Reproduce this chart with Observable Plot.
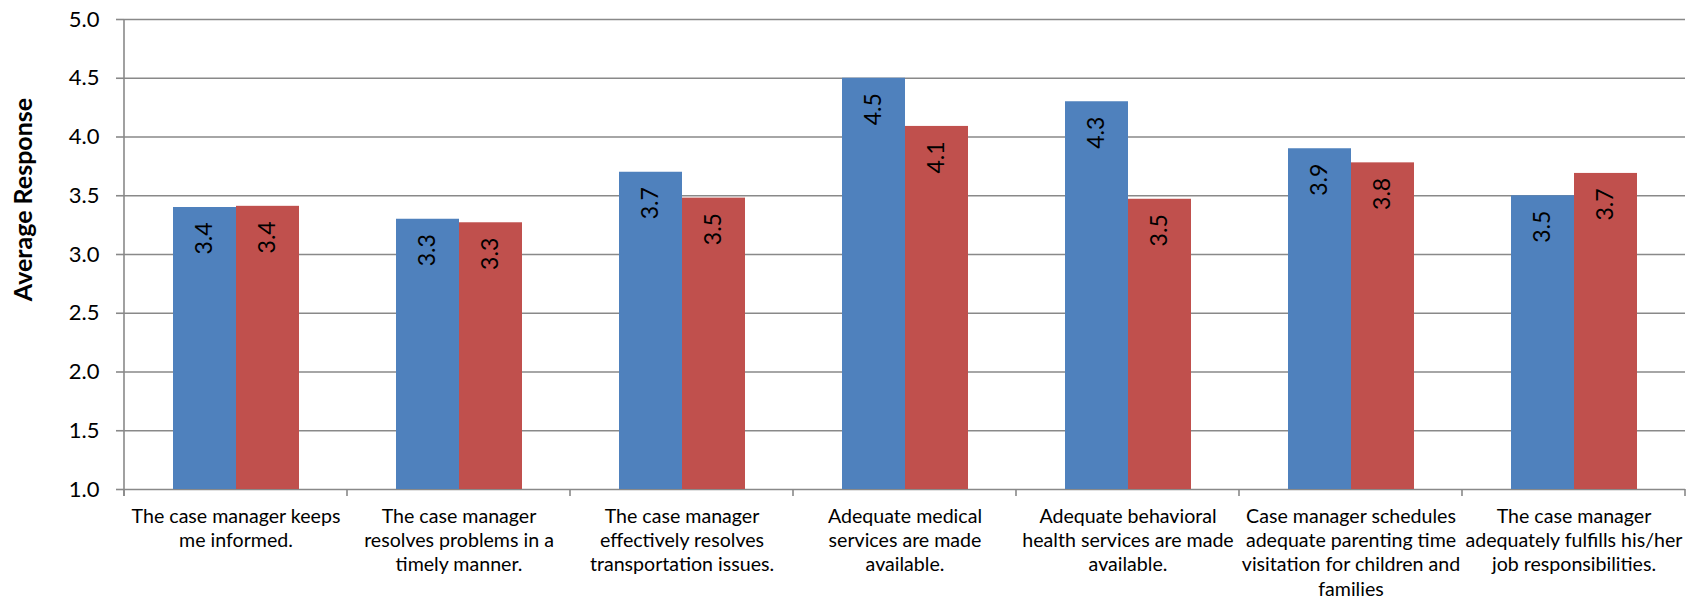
<!DOCTYPE html>
<html><head><meta charset="utf-8">
<script src="https://cdn.jsdelivr.net/npm/d3@7"></script>
<script src="https://cdn.jsdelivr.net/npm/@observablehq/plot@0.6"></script>
<style>html,body{margin:0;padding:0;background:#fff;} svg{display:block}</style>
</head><body><div id="chart"></div>
<script>
const categories = [
  "The case manager keeps me informed.",
  "The case manager resolves problems in a timely manner.",
  "The case manager effectively resolves transportation issues.",
  "Adequate medical services are made available.",
  "Adequate behavioral health services are made available.",
  "Case manager schedules adequate parenting time visitation for children and families",
  "The case manager adequately fulfills his/her job responsibilities."
];
const tickLabels = [
  "The case manager keeps\nme informed.",
  "The case manager\nresolves problems in a\ntimely manner.",
  "The case manager\neffectively resolves\ntransportation issues.",
  "Adequate medical\nservices are made\navailable.",
  "Adequate behavioral\nhealth services are made\navailable.",
  "Case manager schedules\nadequate parenting time\nvisitation for children and\nfamilies",
  "The case manager\nadequately fulfills his/her\njob responsibilities."
];
const seriesNames = ["Series 1", "Series 2"];
const blueValues = [3.40, 3.30, 3.70, 4.50, 4.30, 3.90, 3.50];
const redValues  = [3.41, 3.27, 3.48, 4.09, 3.47, 3.78, 3.69];
const yTicks = [1.0, 1.5, 2.0, 2.5, 3.0, 3.5, 4.0, 4.5, 5.0];
const seriesColors = ["#4F81BD", "#C0504D"];
const yTitle = "Average Response";

const data = categories.flatMap((c, i) => [
  {category: c, series: seriesNames[0], value: blueValues[i]},
  {category: c, series: seriesNames[1], value: redValues[i]}
]);

const gridColor = "#898989";

const chart = Plot.plot({
  width: 1696, height: 605,
  marginLeft: 123, marginRight: 11, marginTop: 19, marginBottom: 116,
  style: {fontFamily: "Lato, 'Open Sans', sans-serif", background: "white", color: "black"},
  fx: {domain: categories, padding: 0, label: null},
  x: {domain: seriesNames, paddingInner: 0, paddingOuter: 0.76, axis: null},
  y: {domain: [yTicks[0], yTicks[yTicks.length - 1]], label: null},
  color: {domain: seriesNames, range: seriesColors},
  marks: [
    Plot.ruleY(yTicks, {stroke: gridColor, strokeWidth: 1.6}),
    Plot.barY(data, {fx: "category", x: "series", y1: yTicks[0], y2: "value", fill: "series"}),
    Plot.text(data, {fx: "category", x: "series", y: "value",
      text: d => d.value.toFixed(1), rotate: -90, textAnchor: "end", lineAnchor: "middle",
      dy: 15, fontSize: 23, fill: "black"}),
    Plot.axisY({ticks: yTicks, tickFormat: d => d.toFixed(1), tickSize: 8, tickPadding: 17,
      fontSize: 22, stroke: gridColor, strokeWidth: 1.6, fill: "black",
      label: yTitle, labelArrow: "none", labelAnchor: "center", labelOffset: 110}),
    Plot.axisFx({anchor: "bottom", tickSize: 0, tickPadding: 16,
      tickFormat: d => tickLabels[categories.indexOf(d)],
      fontSize: 19.6, lineHeight: 24.3 / 19.6, fill: "black", label: null})
  ]
});

document.getElementById("chart").appendChild(chart);

// bold y-axis title, set a little above the plot's middle as in the original
const titleLabel = d3.select(chart).select('[aria-label="y-axis label"]');
titleLabel.selectAll("text").attr("font-weight", "bold").attr("font-size", 25);
titleLabel.attr("transform", `translate(0,-55) ${titleLabel.attr("transform") || ""}`);

// y-axis line and category boundary ticks, placed through the chart's own scales
const fx = chart.scale("fx"), y = chart.scale("y");
const bounds = categories.map(c => fx.apply(c));
bounds.push(fx.apply(categories[categories.length - 1]) + fx.bandwidth);
const g = d3.select(chart).append("g").attr("stroke", gridColor).attr("stroke-width", 1.6);
const y0 = y.apply(yTicks[0]), y1 = y.apply(yTicks[yTicks.length - 1]);
g.append("line").attr("x1", bounds[0]).attr("x2", bounds[0]).attr("y1", y1).attr("y2", y0 + 7);
bounds.forEach(b => g.append("line").attr("x1", b).attr("x2", b).attr("y1", y0).attr("y2", y0 + 7));
</script>
</body></html>
